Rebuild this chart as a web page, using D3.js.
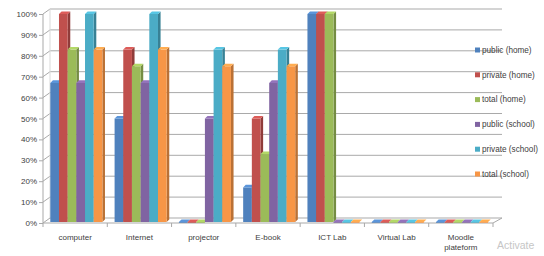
<!DOCTYPE html>
<html><head><meta charset="utf-8">
<script src="https://cdn.jsdelivr.net/npm/d3@7"></script>
<style>body{margin:0;background:#fff}svg{display:block}text{font-family:"Liberation Sans",Arial,sans-serif}</style>
</head><body>
<svg id="c" width="544" height="256"></svg>
<script>
const categories = ["computer","Internet","projector","E-book","ICT Lab","Virtual Lab","Moodle plateform"];
const seriesNames = ["public (home)","private (home)","total (home)","public (school)","private (school)","total (school)"];
const publicHome    = [67, 50, 0, 17, 100, 0, 0];
const privateHome   = [100, 83, 0, 50, 100, 0, 0];
const totalHome     = [83, 75, 0, 33, 100, 0, 0];
const publicSchool  = [67, 67, 50, 67, 0, 0, 0];
const privateSchool = [100, 100, 83, 83, 0, 0, 0];
const totalSchool   = [83, 83, 75, 75, 0, 0, 0];
const yTicks = [0,10,20,30,40,50,60,70,80,90,100];
const colors = ["#4F81BD","#C0504D","#9BBB59","#8064A2","#4BACC6","#F79646"];

const seriesValues = [publicHome, privateHome, totalHome, publicSchool, privateSchool, totalSchool];
const svg = d3.select("#c");
const X0 = 43, X1 = 493, DX = 7, DY = -5;
const y = d3.scaleLinear().domain([0,100]).range([223, 14]);
const x = d3.scaleBand().domain(categories).range([X0, X1]);
const bw = x.bandwidth();
const xs = d3.scaleBand().domain(seriesNames).range([0, bw*0.81]);
const gridC = "#a9a9a9";

// back wall gridlines + left wall diagonals
const grid = svg.append("g");
yTicks.forEach(t => {
  const yy = y(t);
  grid.append("line").attr("x1", X0+DX).attr("x2", 502).attr("y1", yy+DY).attr("y2", yy+DY).attr("stroke", gridC).attr("stroke-width", 1);
  grid.append("line").attr("x1", X0).attr("x2", X0+DX).attr("y1", yy).attr("y2", yy+DY).attr("stroke", gridC).attr("stroke-width", 1);
});
grid.append("line").attr("x1", X0+DX).attr("x2", X0+DX).attr("y1", y(0)+DY).attr("y2", y(100)+DY).attr("stroke", "#d9d9d9");
// floor
grid.append("line").attr("x1", X0).attr("x2", X1).attr("y1", y(0)).attr("y2", y(0)).attr("stroke", gridC);
grid.append("line").attr("x1", X1).attr("x2", 502).attr("y1", y(0)).attr("y2", y(0)+DY).attr("stroke", gridC);
// y axis line
grid.append("line").attr("x1", X0).attr("x2", X0).attr("y1", y(0)).attr("y2", y(100)).attr("stroke", gridC);

// y axis ticks & labels
const yAxis = d3.axisLeft(y).tickValues(yTicks).tickFormat(d => d + "%").tickSize(4).tickSizeOuter(0);
const ya = svg.append("g").attr("transform", `translate(${X0},0)`).call(yAxis);
ya.select(".domain").remove();
ya.selectAll("line").attr("stroke", gridC);
ya.selectAll("text").attr("font-size", 8).attr("fill", "#404040").attr("x", -6);

// x axis ticks & labels
const xa = svg.append("g").attr("transform", `translate(0,${y(0)})`);
categories.forEach((c, i) => {
  const xx = x(c);
  xa.append("line").attr("x1", xx).attr("x2", xx).attr("y1", 0).attr("y2", 4).attr("stroke", gridC);
});
xa.append("line").attr("x1", X1).attr("x2", X1).attr("y1", 0).attr("y2", 4).attr("stroke", gridC);
categories.forEach(c => {
  const words = c === "Moodle plateform" ? ["Moodle","plateform"] : [c];
  const t = xa.append("text").attr("text-anchor", "middle").attr("font-size", 8).attr("fill", "#404040");
  words.forEach((w, k) => t.append("tspan").attr("x", x(c) + bw/2).attr("y", 17 + k*10).text(w));
});

// bars
const bd = 2.6; // bar depth
const off = (bw - bw*0.81)/2 + 1.2;
const bars = svg.append("g");
categories.forEach((c, ci) => {
  seriesNames.forEach((s, si) => {
    const v = seriesValues[si][ci];
    const col = d3.color(colors[si]);
    const bx = x(c) + off + xs(s);
    const w = xs.bandwidth();
    const yb = y(0) - 1, yt = y(v) - (v === 0 ? 1 : 0);
    const g = bars.append("g");
    g.append("path").attr("d", `M${bx+w},${yt} L${bx+w+bd},${yt-bd} L${bx+w+bd},${yb-bd} L${bx+w},${yb} Z`).attr("fill", col.darker(0.8));
    g.append("rect").attr("x", bx).attr("y", yt).attr("width", w).attr("height", Math.max(yb-yt, 0.8)).attr("fill", col);
    g.append("path").attr("d", `M${bx},${yt} L${bx+bd},${yt-bd} L${bx+w+bd},${yt-bd} L${bx+w},${yt} Z`).attr("fill", col.brighter(0.4));
  });
});

// legend
const lg = svg.append("g");
seriesNames.forEach((s, i) => {
  const ly = 50 + i*24.8;
  lg.append("rect").attr("x", 475).attr("y", ly-2.5).attr("width", 5).attr("height", 5).attr("fill", colors[i]);
  lg.append("text").attr("x", 482).attr("y", ly).attr("dy", "0.35em").attr("font-size", 8.2).attr("fill", "#404040").text(s);
});

svg.append("text").attr("x", 497).attr("y", 249).attr("font-size", 10.5).attr("fill", "#c6c6c6").text("Activate");
</script>
</body></html>
